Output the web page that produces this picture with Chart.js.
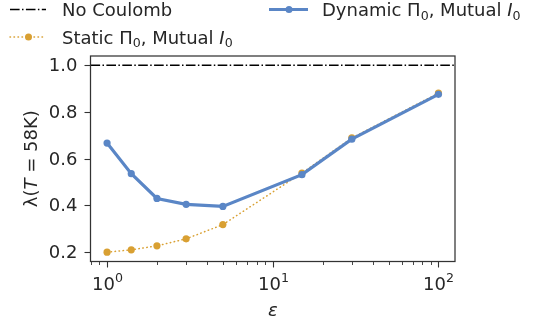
<!DOCTYPE html>
<html>
<head>
<meta charset="utf-8">
<script src="https://cdn.jsdelivr.net/npm/chart.js@4"></script>
<style>
  html, body { margin: 0; padding: 0; background: #ffffff; }
  #wrap { width: 536px; height: 322px; position: relative; }
</style>
</head>
<body>
<div id="wrap"><canvas id="lambdaChart" width="536" height="322"></canvas></div>
<script>
// epsilon values and lambda(T = 58K) for each screening model
var epsilonValues = [1, 1.4, 2, 3, 5, 15, 30, 100];
var dynamicLambda = [0.667, 0.536, 0.430, 0.405, 0.396, 0.532, 0.684, 0.876];
var staticLambda  = [0.200, 0.210, 0.227, 0.257, 0.318, 0.539, 0.689, 0.881];
var noCoulombLevel = 1.0;

var yTickValues = [0.2, 0.4, 0.6, 0.8, 1.0];
var xMajorTicks = [1, 10, 100];
var xMajorExponents = ["0", "1", "2"];

var BLUE = "#5a86c6";
var GOLD = "#d9a032";
var INK = "#262626";
var FONT = "DejaVu Sans, sans-serif";
var SIZE = 18;

function toPoints(xs, ys) {
    return xs.map(function (x, i) { return { x: x, y: ys[i] }; });
}

// draws a run of text pieces; pieces can be italic or subscript/superscript
function drawRich(ctx, parts, x, y, size, align) {
    var widths = parts.map(function (p) {
        var s = p.sub || p.sup ? size * 0.7 : size;
        ctx.font = (p.italic ? "italic " : "") + s + "px " + FONT;
        return ctx.measureText(p.t).width;
    });
    var total = widths.reduce(function (a, b) { return a + b; }, 0);
    var cx = align === "center" ? x - total / 2 : (align === "right" ? x - total : x);
    ctx.textAlign = "left";
    ctx.textBaseline = "alphabetic";
    parts.forEach(function (p, i) {
        var s = p.sub || p.sup ? size * 0.7 : size;
        var dy = p.sub ? size * 0.22 : (p.sup ? -size * 0.42 : 0);
        ctx.font = (p.italic ? "italic " : "") + s + "px " + FONT;
        ctx.fillText(p.t, cx, y + dy);
        cx += widths[i];
    });
}

var axesPlugin = {
    id: "axesPlugin",
    afterDraw: function (chart) {
        var ctx = chart.ctx;
        var area = chart.chartArea;
        var xs = chart.scales.x;
        var ys = chart.scales.y;

        ctx.save();
        ctx.fillStyle = INK;
        ctx.strokeStyle = "#333333";
        ctx.lineWidth = 1.25;

        // frame
        ctx.strokeRect(area.left, area.top, area.right - area.left, area.bottom - area.top);

        // y ticks and labels
        ctx.lineWidth = 1.1;
        yTickValues.forEach(function (v) {
            var py = Math.round(ys.getPixelForValue(v)) + 0.5;
            ctx.beginPath();
            ctx.moveTo(area.left - 6, py);
            ctx.lineTo(area.left, py);
            ctx.stroke();
            ctx.font = SIZE + "px " + FONT;
            ctx.textAlign = "right";
            ctx.textBaseline = "middle";
            ctx.fillText(v.toFixed(1), area.left - 13, py + 1);
        });

        // x minor ticks on every decade
        var lo = xs.min, hi = xs.max;
        for (var d = -1; d <= 2; d++) {
            for (var m = 2; m <= 9; m++) {
                var v = m * Math.pow(10, d);
                if (v < lo || v > hi) continue;
                var px = Math.round(xs.getPixelForValue(v)) + 0.5;
                ctx.lineWidth = 0.9;
                ctx.beginPath();
                ctx.moveTo(px, area.bottom);
                ctx.lineTo(px, area.bottom + 3.5);
                ctx.stroke();
            }
        }

        // x major ticks with power-of-ten labels
        xMajorTicks.forEach(function (v, i) {
            var px = Math.round(xs.getPixelForValue(v)) + 0.5;
            ctx.lineWidth = 1.1;
            ctx.beginPath();
            ctx.moveTo(px, area.bottom);
            ctx.lineTo(px, area.bottom + 6);
            ctx.stroke();
            var supSize = SIZE * 0.7;
            ctx.font = SIZE + "px " + FONT;
            var w10 = ctx.measureText("10").width;
            ctx.font = supSize + "px " + FONT;
            var wExp = ctx.measureText(xMajorExponents[i]).width;
            var startX = px - (w10 + wExp) / 2;
            ctx.textAlign = "left";
            ctx.textBaseline = "alphabetic";
            ctx.font = SIZE + "px " + FONT;
            ctx.fillText("10", startX, 290);
            ctx.font = supSize + "px " + FONT;
            ctx.fillText(xMajorExponents[i], startX + w10, 282);
        });

        // axis titles
        drawRich(ctx, [{ t: "\u03b5", italic: true }], (area.left + area.right) / 2, 316, SIZE, "center");

        ctx.save();
        ctx.translate(37, (area.top + area.bottom) / 2);
        ctx.rotate(-Math.PI / 2);
        drawRich(ctx, [{ t: "\u03bb(" }, { t: "T", italic: true }, { t: " = 58K)" }], 0, 0, SIZE, "center");
        ctx.restore();

        ctx.restore();
    }
};

// dash-dot reference level drawn under the data lines
var referencePlugin = {
    id: "referencePlugin",
    beforeDatasetsDraw: function (chart) {
        var ctx = chart.ctx;
        var area = chart.chartArea;
        var py = chart.scales.y.getPixelForValue(noCoulombLevel);
        ctx.save();
        ctx.strokeStyle = "#000000";
        ctx.lineWidth = 1.5;
        ctx.setLineDash([9.6, 2.4, 1.5, 2.4]);
        ctx.beginPath();
        ctx.moveTo(area.left, py);
        ctx.lineTo(area.right, py);
        ctx.stroke();
        ctx.restore();
    }
};

var legendPlugin = {
    id: "legendPlugin",
    afterDraw: function (chart) {
        var ctx = chart.ctx;
        ctx.save();
        ctx.fillStyle = INK;

        // No Coulomb
        ctx.strokeStyle = "#000000";
        ctx.lineWidth = 1.5;
        ctx.setLineDash([9.6, 2.4, 1.5, 2.4]);
        ctx.beginPath();
        ctx.moveTo(10, 9.5);
        ctx.lineTo(46, 9.5);
        ctx.stroke();
        drawRich(ctx, [{ t: "No Coulomb" }], 62, 16, SIZE, "left");

        // Dynamic
        ctx.setLineDash([]);
        ctx.strokeStyle = BLUE;
        ctx.lineWidth = 3.2;
        ctx.beginPath();
        ctx.moveTo(269, 9.5);
        ctx.lineTo(308, 9.5);
        ctx.stroke();
        ctx.fillStyle = BLUE;
        ctx.beginPath();
        ctx.arc(289, 9.5, 3.5, 0, Math.PI * 2);
        ctx.fill();
        ctx.fillStyle = INK;
        drawRich(ctx, [{ t: "Dynamic \u03a0" }, { t: "0", sub: true }, { t: ", Mutual " }, { t: "I", italic: true }, { t: "0", sub: true }], 322, 16, SIZE, "left");

        // Static
        ctx.strokeStyle = GOLD;
        ctx.lineWidth = 1.5;
        ctx.lineCap = "round";
        ctx.setLineDash([0.5, 3.5]);
        ctx.beginPath();
        ctx.moveTo(10, 37);
        ctx.lineTo(46, 37);
        ctx.stroke();
        ctx.setLineDash([]);
        ctx.fillStyle = GOLD;
        ctx.beginPath();
        ctx.arc(28.5, 37, 3.5, 0, Math.PI * 2);
        ctx.fill();
        ctx.fillStyle = INK;
        drawRich(ctx, [{ t: "Static \u03a0" }, { t: "0", sub: true }, { t: ", Mutual " }, { t: "I", italic: true }, { t: "0", sub: true }], 62, 43.5, SIZE, "left");

        ctx.restore();
    }
};

var canvas = document.getElementById("lambdaChart");

new Chart(canvas, {
    type: "line",
    data: {
        datasets: [
            {
                label: "Dynamic \u03a0\u2080, Mutual I\u2080",
                data: toPoints(epsilonValues, dynamicLambda),
                borderColor: BLUE,
                backgroundColor: BLUE,
                borderWidth: 3.2,
                pointRadius: 3.6,
                pointBorderWidth: 0,
                pointHoverRadius: 3.6,
                tension: 0,
                order: 1
            },
            {
                label: "Static \u03a0\u2080, Mutual I\u2080",
                data: toPoints(epsilonValues, staticLambda),
                borderColor: GOLD,
                backgroundColor: GOLD,
                borderWidth: 1.5,
                borderDash: [0.5, 3.5],
                borderCapStyle: "round",
                pointRadius: 3.6,
                pointBorderWidth: 0,
                pointHoverRadius: 3.6,
                tension: 0,
                order: 2
            }
        ]
    },
    options: {
        responsive: false,
        animation: false,
        events: [],
        layout: {
            padding: { left: 90.5, right: 81, top: 56, bottom: 60.5 }
        },
        plugins: {
            legend: { display: false },
            tooltip: { enabled: false }
        },
        scales: {
            x: {
                type: "logarithmic",
                display: false,
                min: Math.pow(10, -0.1),
                max: Math.pow(10, 2.1)
            },
            y: {
                type: "linear",
                display: false,
                min: 0.16,
                max: 1.04
            }
        }
    },
    plugins: [referencePlugin, axesPlugin, legendPlugin]
});
</script>
</body>
</html>
